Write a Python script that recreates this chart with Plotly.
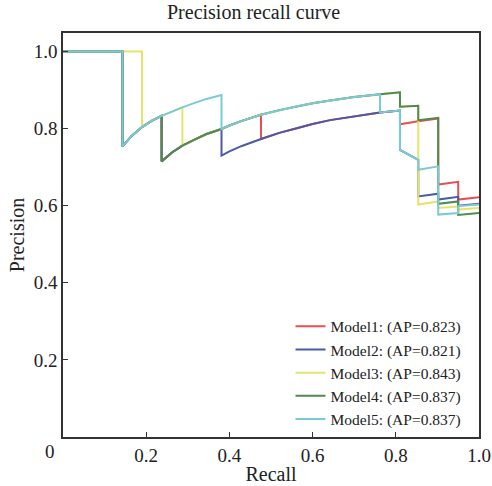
import plotly.graph_objects as go

# Shared curve segments (recall, precision)
A_R = [0.143, 0.165, 0.19, 0.213, 0.237, 0.262, 0.287, 0.315, 0.345, 0.381]
A_P = [0.754, 0.781, 0.804, 0.820, 0.833, 0.845, 0.855, 0.866, 0.877, 0.887]
B_R = [0.237, 0.262, 0.287, 0.315, 0.345, 0.381]
B_P = [0.715, 0.738, 0.756, 0.771, 0.786, 0.799]
C_R = [0.381, 0.40, 0.43, 0.476, 0.52, 0.562, 0.60, 0.642, 0.70, 0.762, 0.81]
C_P = [0.799, 0.808, 0.820, 0.836, 0.848, 0.858, 0.866, 0.873, 0.882, 0.889, 0.894]
D_R = [0.381, 0.40, 0.43, 0.476, 0.52, 0.562, 0.60, 0.642, 0.70, 0.762, 0.81]
D_P = [0.730, 0.741, 0.755, 0.773, 0.789, 0.801, 0.812, 0.822, 0.832, 0.842, 0.847]

# Tails (recall >= 0.81)
T1_R = [0.81, 0.854, 0.902, 0.902, 0.95, 0.95, 1.0]
T1_P = [0.811, 0.819, 0.826, 0.655, 0.662, 0.616, 0.622]
T2_R = [0.81, 0.854, 0.854, 0.902, 0.902, 0.95, 0.95, 1.0]
T2_P = [0.745, 0.719, 0.624, 0.631, 0.616, 0.623, 0.600, 0.605]
T3_R = [0.81, 0.854, 0.854, 0.902, 0.902, 0.95, 0.95, 1.0]
T3_P = [0.857, 0.859, 0.603, 0.611, 0.594, 0.598, 0.590, 0.594]
T4_R = [0.81, 0.854, 0.854, 0.902, 0.902, 0.95, 0.95, 1.0]
T4_P = [0.857, 0.859, 0.822, 0.828, 0.605, 0.611, 0.576, 0.581]
T5_R = [0.81, 0.854, 0.854, 0.902, 0.902, 0.95, 0.95, 1.0]
T5_P = [0.745, 0.719, 0.693, 0.702, 0.577, 0.581, 0.599, 0.603]

names = ["Model1: (AP=0.823)", "Model2: (AP=0.821)", "Model3: (AP=0.843)",
         "Model4: (AP=0.837)", "Model5: (AP=0.837)"]
colors = ["#e8504f", "#4a5aa8", "#e3e36e", "#4f8a4f", "#7ccad3"]
tick_vals = [0.2, 0.4, 0.6, 0.8, 1.0]
tick_text = ["0.2", "0.4", "0.6", "0.8", "1.0"]


def seg(rr, pp, r0, r1):
    out_r, out_p = [], []
    for r, p in zip(rr, pp):
        if r0 - 1e-9 <= r <= r1 + 1e-9:
            out_r.append(r)
            out_p.append(p)
    return out_r, out_p


def build(parts):
    R, P = [], []
    for r, p in parts:
        R += list(r)
        P += list(p)
    return R, P


m1 = build([([0, 0.143], [1.0, 1.0]), seg(A_R, A_P, 0.143, 0.237), seg(B_R, B_P, 0.237, 0.381),
            seg(C_R, C_P, 0.381, 0.476), seg(D_R, D_P, 0.476, 0.81), (T1_R, T1_P)])
m2 = build([([0, 0.143], [1.0, 1.0]), seg(A_R, A_P, 0.143, 0.237), seg(B_R, B_P, 0.237, 0.381),
            seg(D_R, D_P, 0.381, 0.81), (T2_R, T2_P)])
m3 = build([([0, 0.19], [1.0, 1.0]), seg(A_R, A_P, 0.19, 0.287), seg(B_R, B_P, 0.287, 0.381),
            seg(C_R, C_P, 0.381, 0.81), (T3_R, T3_P)])
m4 = build([([0, 0.143], [1.0, 1.0]), seg(A_R, A_P, 0.143, 0.237), seg(B_R, B_P, 0.237, 0.381),
            seg(C_R, C_P, 0.381, 0.81), (T4_R, T4_P)])
m5 = build([([0, 0.143], [1.0, 1.0]), seg(A_R, A_P, 0.143, 0.381), seg(C_R, C_P, 0.381, 0.762),
            seg(D_R, D_P, 0.762, 0.81), (T5_R, T5_P)])

fig = go.Figure()
for (r, p), name, c in zip([m1, m2, m3, m4, m5], names, colors):
    fig.add_trace(go.Scatter(x=r, y=p, mode="lines", name=name,
                             line=dict(color=c, width=2)))

FONT = "Liberation Serif"
fig.update_layout(
    width=492, height=486,
    margin=dict(l=63, r=13, t=33, b=49, autoexpand=False),
    paper_bgcolor="white", plot_bgcolor="white",
    font=dict(family=FONT, size=19, color="#222"),
    title=dict(text="Precision recall curve", x=0.5155, xanchor="center", y=0.975, yanchor="middle",
               font=dict(family=FONT, size=20, color="#222")),
    legend=dict(x=0.97, y=0.003, xanchor="right", yanchor="bottom",
                bgcolor="rgba(0,0,0,0)", font=dict(family=FONT, size=15.5, color="#222")),
    showlegend=True,
)
fig.update_xaxes(range=[0, 1], tickvals=tick_vals, ticktext=tick_text,
                 ticks="inside", ticklen=5, tickcolor="#333", automargin=False,
                 showline=True, linecolor="#333", linewidth=1.5, mirror=True,
                 showgrid=False, zeroline=False,
                 title=dict(text="Recall", standoff=2, font=dict(family=FONT, size=20)))
fig.update_yaxes(range=[0, 1.048], tickvals=tick_vals, ticktext=tick_text,
                 ticks="inside", ticklen=5, tickcolor="#333", automargin=False,
                 showline=True, linecolor="#333", linewidth=1.5, mirror=True,
                 showgrid=False, zeroline=False,
                 title=dict(text="Precision", standoff=4, font=dict(family=FONT, size=20)))
fig.add_annotation(text="0", xref="paper", yref="paper", x=-0.031, y=-0.037,
                   xanchor="center", yanchor="middle", showarrow=False,
                   font=dict(family=FONT, size=19, color="#222"))

fig.write_html("out.html")
